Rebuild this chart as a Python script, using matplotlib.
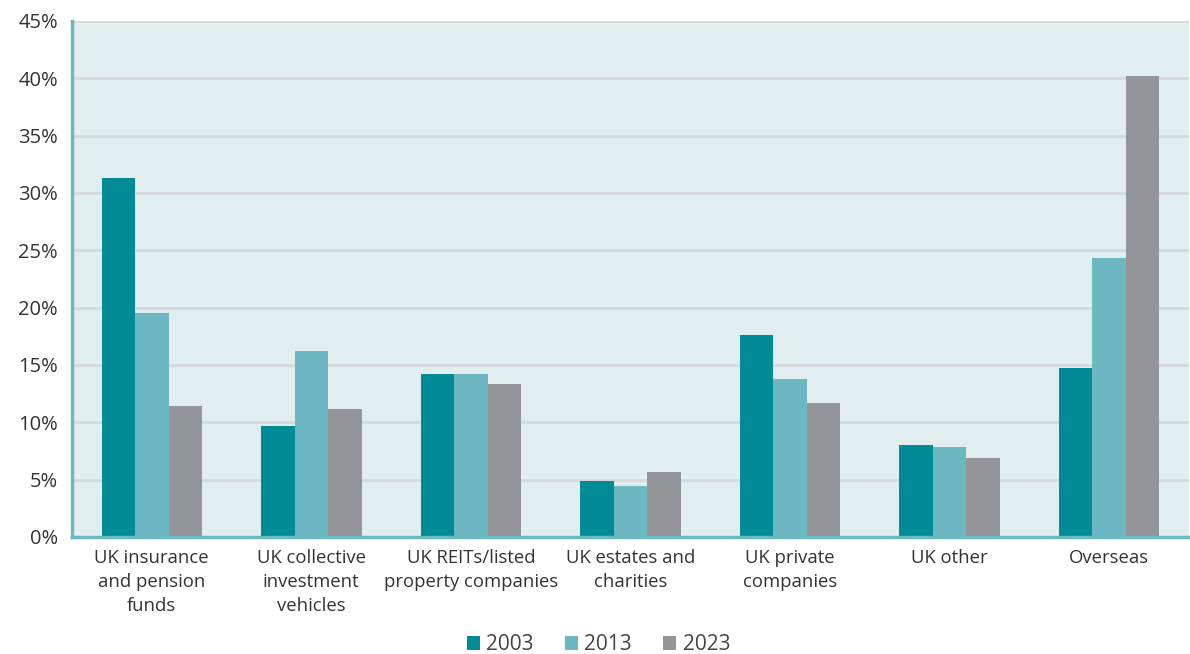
import matplotlib
matplotlib.use("Agg")
import matplotlib.pyplot as plt
import numpy as np
from matplotlib.ticker import FuncFormatter

categories = ["UK insurance\nand pension\nfunds", "UK collective\ninvestment\nvehicles",
              "UK REITs/listed\nproperty companies", "UK estates and\ncharities",
              "UK private\ncompanies", "UK other", "Overseas"]
years = ["2003", "2013", "2023"]
v2003 = [31.3, 9.7, 14.2, 4.9, 17.6, 8.0, 14.7]
v2013 = [19.5, 16.2, 14.2, 4.4, 13.8, 7.8, 24.3]
v2023 = [11.4, 11.2, 13.3, 5.7, 11.7, 6.9, 40.2]
colors = ["#008b96", "#6bb8c2", "#939598"]

plt.rcParams['font.family'] = ['Open Sans', 'DejaVu Sans']
fig = plt.figure(figsize=(11.9, 6.54), dpi=100)
ax = fig.add_axes([0.0605, 0.179, 0.9385, 0.789])
ax.set_facecolor("#e0eef0")

x = np.arange(len(categories))
w = 0.21
for i, (vals, c, lab) in enumerate(zip([v2003, v2013, v2023], colors, years)):
    ax.bar(x + (i - 1) * w, vals, w, color=c, label=lab, zorder=3)

ax.set_xlim(-0.5, len(categories) - 0.5)
ax.set_ylim(0, 45)
ax.set_yticks(np.arange(0, 46, 5))
ax.yaxis.set_major_formatter(FuncFormatter(lambda v, p: f"{int(v)}%"))
ax.grid(axis="y", color="#d6d9da", linewidth=2, zorder=0)
ax.set_xticks(x)
ax.set_xticklabels(categories, fontsize=13.3, color="#333333", linespacing=1.4)
ax.tick_params(axis="y", labelsize=14.5, labelcolor="#333333", length=0, pad=10)
ax.tick_params(axis="x", length=0, pad=9)
for s in ["top", "right"]:
    ax.spines[s].set_visible(False)
for s in ["left", "bottom"]:
    ax.spines[s].set_color("#6bb8c2")
    ax.spines[s].set_linewidth(2.5)
    ax.spines[s].set_zorder(4)

leg = fig.legend(loc="center", bbox_to_anchor=(0.503, 0.014), ncol=3, frameon=False,
                 fontsize=15, handlelength=0.63, handleheight=0.63, handletextpad=0.3,
                 columnspacing=1.5, labelcolor="#444444")
fig.savefig("out.png", dpi=100)
